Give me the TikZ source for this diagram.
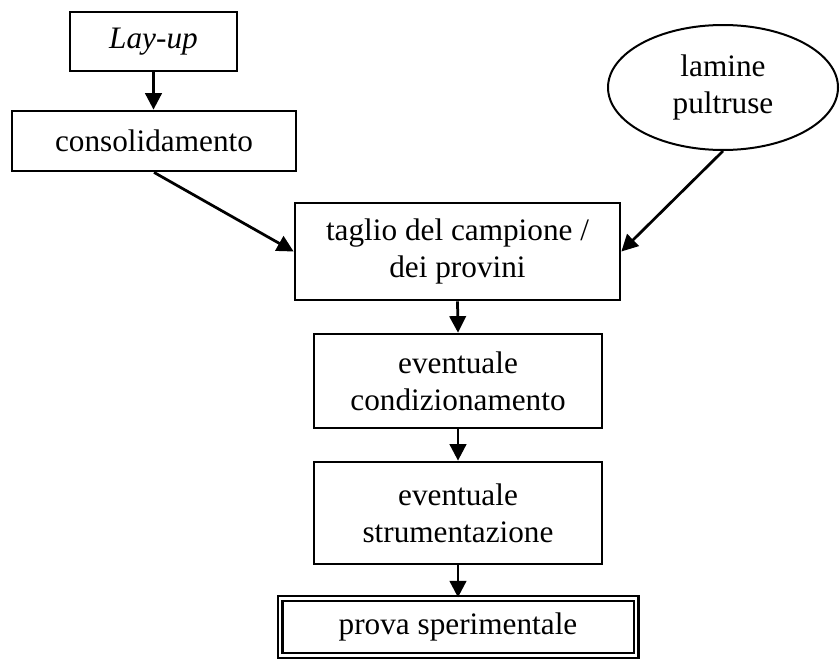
\documentclass[tikz,border=0pt]{standalone}
\usepackage{fontspec}
\setmainfont{Liberation Serif}
\usetikzlibrary{arrows.meta,shapes.geometric}
\tikzset{
 block/.style={rectangle,draw,line width=1.1pt,align=center,inner sep=0,font=\fontsize{12.5}{14.8}\selectfont},
 source/.style={ellipse,draw,line width=.8pt,align=center,inner sep=0,font=\fontsize{12.5}{14.8}\selectfont},
 final/.style={block,double,line width=.9pt,double distance=1pt},
 flow/.style={line width=1.1pt,-{Triangle[length=6.6pt,width=6.6pt]}}
}

\begin{document}
\begin{tikzpicture}[x=0.4pt,y=-0.4pt]
\path[use as bounding box] (0,0) rectangle (840,660);
\node[block,minimum width=167*0.4pt,minimum height=59*0.4pt] (layup) at (153.5,41.5) {\itshape Lay-up};
\node[block,minimum width=284*0.4pt,minimum height=60*0.4pt] (consol) at (154,141) {consolidamento};
\node[source,minimum width=230*0.4pt,minimum height=125*0.4pt] (lamine) at (723,87.5) {lamine\\pultruse};
\node[block,minimum width=325*0.4pt,minimum height=97*0.4pt] (taglio) at (457.5,251.5) {taglio del campione /\\dei provini};
\node[block,minimum width=288*0.4pt,minimum height=94*0.4pt] (condiz) at (458,381) {eventuale\\condizionamento};
\node[block,minimum width=288*0.4pt,minimum height=102*0.4pt] (strum) at (458,513) {eventuale\\strumentazione};
\node[final,minimum width=356*0.4pt,minimum height=57*0.4pt] (prova) at (458,627) {prova sperimentale};
% collegamenti
\draw[flow] (layup.south) -- (consol.north -| layup.south);
\draw[flow] (consol.south) -- (taglio.west);
\draw[flow] (lamine.south) -- (taglio.east);
\draw[flow] (taglio.south) -- (condiz.north);
\draw[flow] (condiz.south) -- (strum.north);
\draw[flow] (strum.south) -- (prova.north);
\end{tikzpicture}
\end{document}
